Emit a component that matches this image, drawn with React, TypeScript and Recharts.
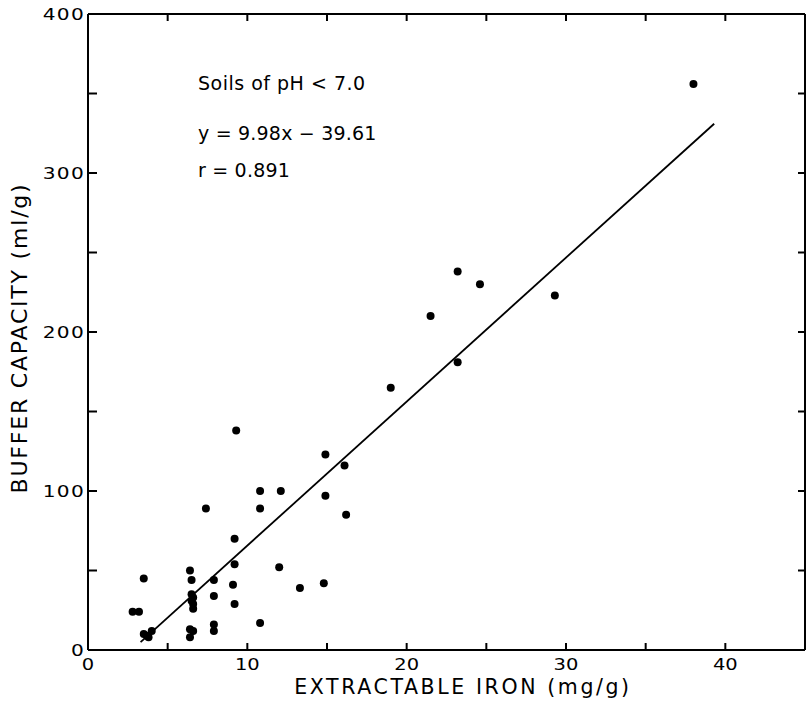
import { ReferenceLine, Scatter, ScatterChart, XAxis, YAxis } from "recharts";

// extractable iron (mg/g) vs buffer capacity (ml/g)
const ironX = [
  38.0, 23.2, 24.6, 29.3, 21.5, 23.2, 19.0, 9.3, 14.9, 16.1, 10.8, 12.1, 14.9,
  7.4, 10.8, 16.2, 9.2, 9.2, 12.0, 6.4, 6.5, 7.9, 3.5, 9.1, 14.8, 13.3, 7.9,
  6.5, 6.6, 6.5, 6.6, 6.6, 9.2, 2.8, 3.2, 10.8, 7.9, 7.9, 6.4, 6.6, 6.4, 3.5,
  3.8, 4.0, 3.7,
];
const bufferY = [
  356, 238, 230, 223, 210, 181, 165, 138, 123, 116, 100, 100, 97, 89, 89, 85,
  70, 54, 52, 50, 44, 44, 45, 41, 42, 39, 34, 35, 33, 31, 29, 26, 29, 24, 24,
  17, 16, 12, 13, 12, 8, 10, 8, 12, 9,
];

// drawn regression line end points
const fitX = [3.3, 39.3];
const fitY = [5, 331];

const xTicks = [0, 5, 10, 15, 20, 25, 30, 35, 40, 45];
const xLabels = [0, 10, 20, 30, 40];
const yTicks = [0, 50, 100, 150, 200, 250, 300, 350, 400];
const yLabels = [0, 100, 200, 300, 400];

const points = ironX.map((x, i) => ({ x, y: bufferY[i] }));

const FONT = "DejaVu Sans";
const axisLine = { stroke: "#000", strokeWidth: 2 };

const BottomTick = ({ x, y, payload }: any) => {
  const v = payload.value;
  return (
    <g>
      {v > 0 && v < 45 && (
        <line x1={x} x2={x} y1={y} y2={y - 7} stroke="#000" strokeWidth={2} />
      )}
      {xLabels.includes(v) && (
        <text
          transform={`translate(${x},${y + 20}) scale(1.3,1)`}
          textAnchor="middle"
          fontFamily={FONT}
          fontSize={15}
          fill="#000"
        >
          {v}
        </text>
      )}
    </g>
  );
};

const TopTick = ({ x, y, payload }: any) => {
  const v = payload.value;
  if (v <= 0 || v >= 45) return <g />;
  return <line x1={x} x2={x} y1={y} y2={y + 7} stroke="#000" strokeWidth={2} />;
};

const LeftTick = ({ x, y, payload }: any) => {
  const v = payload.value;
  return (
    <g>
      <line x1={x} x2={x + 9} y1={y} y2={y} stroke="#000" strokeWidth={2} />
      {yLabels.includes(v) && (
        <text
          transform={`translate(${x - 3},${y + 6}) scale(1.3,1)`}
          textAnchor="end"
          fontFamily={FONT}
          fontSize={15.5}
          letterSpacing={1}
          fill="#000"
        >
          {v}
        </text>
      )}
    </g>
  );
};

const RightTick = ({ x, y }: any) => (
  <line x1={x - 7} x2={x} y1={y} y2={y} stroke="#000" strokeWidth={2} />
);

const NoShape = () => <g />;

export default function App() {
  return (
    <div style={{ position: "absolute", left: 0, top: 0, width: 806, height: 704, background: "#fff" }}>
      <ScatterChart width={806} height={704} margin={{ top: 13, right: 0, bottom: 0, left: 0 }}>
        <XAxis
          type="number"
          dataKey="x"
          domain={[0, 45]}
          ticks={xTicks}
          interval={0}
          height={54}
          tickSize={0}
          tickMargin={0}
          tickLine={false}
          axisLine={axisLine}
          tick={BottomTick}
          allowDataOverflow
        />
        <XAxis
          xAxisId="top"
          orientation="top"
          type="number"
          dataKey="x"
          domain={[0, 45]}
          ticks={xTicks}
          interval={0}
          height={1}
          tickSize={0}
          tickMargin={0}
          tickLine={false}
          axisLine={axisLine}
          tick={TopTick}
          allowDataOverflow
        />
        <YAxis
          type="number"
          dataKey="y"
          domain={[0, 400]}
          ticks={yTicks}
          interval={0}
          width={88}
          tickSize={0}
          tickMargin={0}
          tickLine={false}
          axisLine={axisLine}
          tick={LeftTick}
          allowDataOverflow
        />
        <YAxis
          yAxisId="right"
          orientation="right"
          type="number"
          dataKey="y"
          domain={[0, 400]}
          ticks={yTicks}
          interval={0}
          width={1}
          tickSize={0}
          tickMargin={0}
          tickLine={false}
          axisLine={axisLine}
          tick={RightTick}
          allowDataOverflow
        />
        <ReferenceLine
          segment={[
            { x: fitX[0], y: fitY[0] },
            { x: fitX[1], y: fitY[1] },
          ]}
          stroke="#000"
          strokeWidth={1.8}
        />
        {/* invisible twin so the top and right frame axes get their scales */}
        <Scatter
          data={points}
          xAxisId="top"
          yAxisId="right"
          isAnimationActive={false}
          shape={NoShape}
        />
        <Scatter
          data={points}
          isAnimationActive={false}
          shape={(p: any) => <circle cx={p.cx} cy={p.cy} r={4} fill="#000" />}
        />
      </ScatterChart>
      <svg
        width={806}
        height={704}
        style={{ position: "absolute", left: 0, top: 0, pointerEvents: "none" }}
      >
        <g fontFamily={FONT} fill="#000">
          <text x={198} y={90} fontSize={19} letterSpacing={0.5}>
            Soils of pH &lt; 7.0
          </text>
          <text x={198} y={140} fontSize={19} letterSpacing={0.2}>
            y = 9.98x − 39.61
          </text>
          <text x={198} y={177} fontSize={19} letterSpacing={0.2}>
            r = 0.891
          </text>
          <text x={463} y={694} fontSize={20.5} letterSpacing={2.6} textAnchor="middle">
            EXTRACTABLE IRON (mg/g)
          </text>
          <text
            transform="translate(27,338) rotate(-90)"
            fontSize={22}
            letterSpacing={1.8}
            textAnchor="middle"
          >
            BUFFER CAPACITY (ml/g)
          </text>
        </g>
      </svg>
    </div>
  );
}
